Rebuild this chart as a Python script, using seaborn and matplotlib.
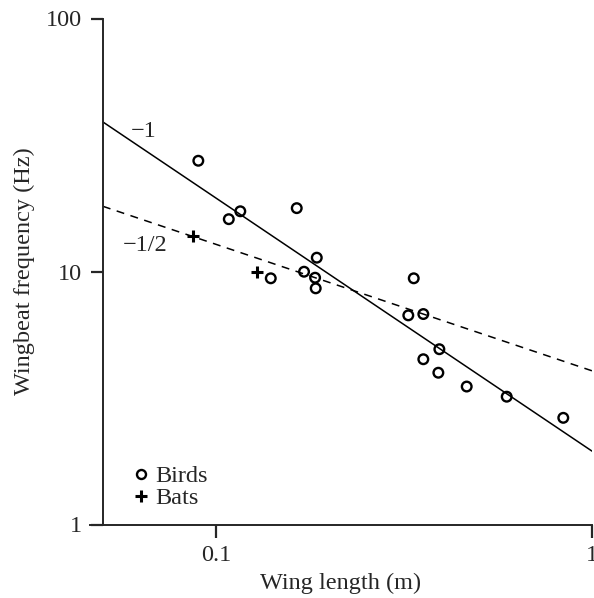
import numpy as np
import pandas as pd
import matplotlib
matplotlib.use("Agg")
import matplotlib.pyplot as plt
from matplotlib.lines import Line2D
import seaborn as sns

# ==============================
# Data (log-log)
# ==============================
bird_len = [0.0897, 0.1081, 0.1160, 0.1639, 0.1398, 0.1714, 0.1853, 0.1834, 0.1841,
            0.3356, 0.3246, 0.3559, 0.3926, 0.3559, 0.3902, 0.4642, 0.5931, 0.8387]
bird_freq = [27.4, 16.1, 17.3, 17.8, 9.40, 9.98, 11.34, 9.45, 8.58,
             9.40, 6.71, 6.79, 4.93, 4.50, 3.98, 3.51, 3.20, 2.64]

bat_len = [0.0870, 0.1283]
bat_freq = [13.85, 9.98]

# fitted lines, endpoints at the edges of the plot
line_x = [0.05, 1.0]
slope1_y = [39.0, 1.95]      # slope -1
slope_half_y = [18.1, 4.05]  # slope -1/2

x_ticks = [0.1, 1]
x_labels = ["0.1", "1"]
y_ticks = [1, 10, 100]
y_labels = ["1", "10", "100"]

birds = pd.DataFrame({"len": bird_len, "freq": bird_freq})
bats = pd.DataFrame({"len": bat_len, "freq": bat_freq})
fits = pd.DataFrame({"x": line_x, "a": slope1_y, "b": slope_half_y})

# ==============================
# Style
# ==============================
sns.set_style("ticks")
plt.rcParams["font.family"] = ["Liberation Serif", "DejaVu Serif"]
plt.rcParams["font.size"] = 17.5

fig = plt.figure(figsize=(5.94, 5.98), dpi=100)
ax = fig.add_axes([90 / 594, 1 - 524.5 / 598, (592 - 90) / 594, (524.5 - 18.5) / 598])
ax.set_xscale("log")
ax.set_yscale("log")

# fit lines
sns.lineplot(data=fits, x="x", y="a", ax=ax, color="black", lw=1.1)
sns.lineplot(data=fits, x="x", y="b", ax=ax, color="black", lw=1.1,
             linestyle=(0, (5.2, 4.3)))

# points
sns.scatterplot(data=birds, x="len", y="freq", ax=ax, marker="o", s=48,
                facecolor="none", edgecolor="black", linewidth=1.7, zorder=3)
sns.scatterplot(data=bats, x="len", y="freq", ax=ax, marker="+", s=70,
                color="black", linewidth=2.2, zorder=3)

# slope labels
ax.text(0.064, 35.6, "\u22121", ha="center", va="center", fontsize=17.5)
ax.text(0.0647, 12.7, "\u22121/2", ha="center", va="center", fontsize=17.5)

# legend
handles = [
    Line2D([], [], ls="none", marker="o", ms=6.5, mfc="none", mec="black", mew=1.7),
    Line2D([], [], ls="none", marker="+", ms=8, color="black", mew=2.2),
]
ax.legend(handles, ["Birds", "Bats"], loc="lower left", bbox_to_anchor=(0.068, 0.011),
          frameon=False, handlelength=0.6, handletextpad=0.3, labelspacing=0.0,
          borderaxespad=0, fontsize=17.5)

# axes
ax.set_xlim(0.0462, 1)
ax.set_ylim(1, 100)
ax.spines["left"].set_position(("data", 0.05))
sns.despine(ax=ax)
for s in ["left", "bottom"]:
    ax.spines[s].set_linewidth(1.4)

ax.set_xticks(x_ticks)
ax.set_xticklabels(x_labels)
ax.set_yticks(y_ticks)
ax.set_yticklabels(y_labels)
ax.minorticks_off()
ax.tick_params(axis="both", direction="out", length=9, width=1.6, labelsize=17.5)
ax.tick_params(axis="y", pad=6)
ax.tick_params(axis="x", pad=6)

ax.set_xlabel("Wing length (m)", fontsize=17.5, labelpad=5)
ax.set_ylabel("Wingbeat frequency (Hz)", fontsize=17.5, labelpad=8)

fig.savefig("out.png", dpi=100)
